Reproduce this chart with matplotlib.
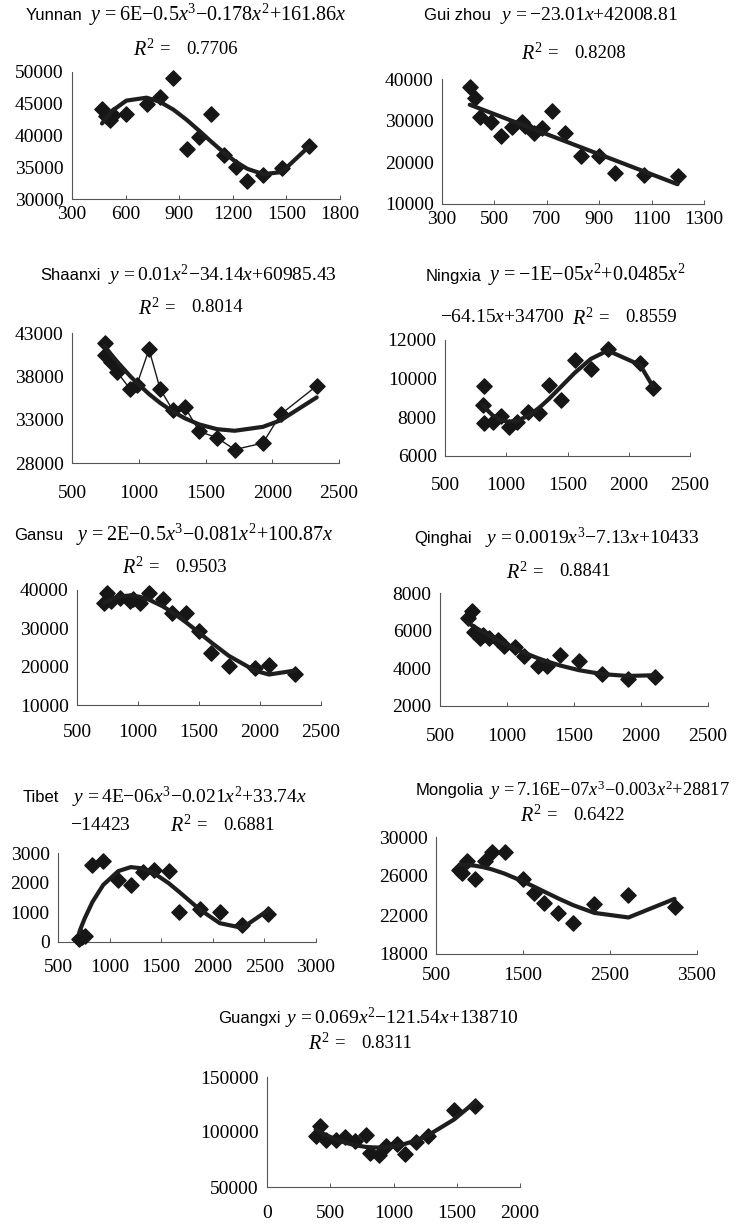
import numpy as np
import matplotlib
matplotlib.use('Agg')
import matplotlib.pyplot as plt
from matplotlib import font_manager

plt.rcParams['font.family'] = 'Liberation Serif'
plt.rcParams['mathtext.fontset'] = 'custom'
plt.rcParams['mathtext.rm'] = 'Liberation Serif'
plt.rcParams['mathtext.it'] = 'Liberation Serif:italic'
plt.rcParams['mathtext.sf'] = 'Liberation Sans'

installed = {f.name for f in font_manager.fontManager.ttflist}
if 'Liberation Sans Narrow' in installed:
    name_font, name_size = 'Liberation Sans Narrow', 13.5
else:
    name_font, name_size = 'Liberation Sans', 12

# data (income x, value y)
yunnan_x = [468, 490, 515, 530, 604, 717, 790, 868, 943, 1013, 1079, 1148, 1219, 1282, 1371, 1474, 1628]
yunnan_y = [44100, 43000, 42500, 43300, 43400, 45000, 46100, 49100, 37900, 39700, 43400, 37000, 35100, 32900, 33800, 34900, 38400]

guizhou_x = [406, 427, 446, 486, 527, 567, 606, 615, 650, 682, 718, 771, 832, 899, 962, 1072, 1199]
guizhou_y = [38000, 35400, 30800, 29600, 26400, 28400, 29600, 28800, 27000, 28200, 32200, 27000, 21400, 21600, 17400, 17000, 16800]

shaanxi_x = [744, 749, 790, 840, 935, 985, 1077, 1160, 1254, 1346, 1453, 1587, 1719, 1930, 2062, 2333]
shaanxi_y = [40500, 41850, 39700, 38450, 36550, 37000, 41100, 36550, 34100, 34450, 31650, 30900, 29550, 30300, 33600, 36900]

ningxia_x = [809, 817, 822, 890, 955, 1020, 1090, 1178, 1268, 1347, 1445, 1560, 1691, 1828, 2093, 2200]
ningxia_y = [8650, 9600, 7700, 7760, 8050, 7500, 7760, 8280, 8230, 9660, 8920, 10960, 10480, 11520, 10790, 9540]

gansu_x = [720, 746, 781, 850, 932, 960, 1014, 1090, 1205, 1281, 1396, 1500, 1601, 1746, 1960, 2074, 2290]
gansu_y = [36500, 39100, 37000, 37800, 37000, 37600, 36700, 39100, 37600, 34100, 34100, 29400, 23500, 20200, 19600, 20400, 18000]

qinghai_x = [711, 741, 756, 799, 823, 866, 935, 980, 1060, 1129, 1229, 1296, 1395, 1537, 1711, 1900, 2104]
qinghai_y = [6660, 7020, 5950, 5600, 5780, 5600, 5510, 5190, 5120, 4650, 4120, 4120, 4700, 4400, 3690, 3460, 3550]

tibet_x = [705, 730, 760, 834, 938, 1084, 1205, 1321, 1432, 1571, 1675, 1873, 2068, 2286, 2539]
tibet_y = [110, 170, 190, 2580, 2730, 2100, 1910, 2360, 2440, 2390, 1010, 1120, 1010, 560, 930]

mongolia_x = [769, 800, 858, 950, 1058, 1142, 1288, 1500, 1627, 1742, 1904, 2077, 2319, 2712, 3242]
mongolia_y = [26660, 26300, 27550, 25740, 27550, 28470, 28470, 25740, 24270, 23250, 22230, 21200, 23110, 24030, 22800]

guangxi_x = [385, 422, 464, 544, 620, 694, 781, 818, 887, 939, 1029, 1090, 1177, 1274, 1478, 1644]
guangxi_y = [96700, 105150, 93000, 92400, 95450, 91500, 97600, 80900, 79400, 87600, 89400, 80300, 90600, 96700, 119700, 123900]

W, H = 736, 1228
fig = plt.figure(figsize=(W / 100, H / 100), dpi=100)
fig.patch.set_facecolor('white')


def panel(x, y, deg, box, xticks, yticks, xpad, thin=False):
    l, r, t, b = box
    ax = fig.add_axes([l / W, 1 - b / H, (r - l) / W, (b - t) / H])
    ax.set_xlim(xticks[0], xticks[-1])
    ax.set_ylim(yticks[0], yticks[-1])
    ax.set_xticks(xticks)
    ax.set_yticks(yticks)
    for s in ['top', 'right']:
        ax.spines[s].set_visible(False)
    for s in ['left', 'bottom']:
        ax.spines[s].set_color('#555555')
        ax.spines[s].set_linewidth(0.8)
    ax.tick_params(axis='x', direction='in', length=3, width=0.7, color='#555555',
                   labelsize=14, pad=xpad)
    ax.tick_params(axis='y', length=0, labelsize=14, pad=6)
    ax.patch.set_alpha(0)

    xs = np.array(x, dtype=float)
    ys = np.array(y, dtype=float)
    order = np.argsort(xs)
    xs, ys = xs[order], ys[order]
    if thin:
        ax.plot(xs, ys, color='#1a1a1a', lw=1.0, zorder=2)
    ax.scatter(xs, ys, marker='D', s=60, color='#161616', zorder=3, clip_on=False)
    coef = np.polyfit(xs, ys, deg)
    ax.plot(xs, np.polyval(coef, xs), color='#1e1e1e', lw=3.0, zorder=4,
            solid_capstyle='round', solid_joinstyle='round')
    return ax


def put(x, y, s, size=13.5, **kw):
    fig.text(x / W, 1 - y / H, s, ha='left', va='center', fontsize=size, **kw)


def title(name, nx, eq, ex, y, size=14):
    put(nx, y + 1, name, size=name_size, family=name_font)
    put(ex, y, eq, size=size)


def r2(lx, y, val):
    put(lx, y + 1, r'$R^2$', size=14.5)
    put(lx + 26, y, '=', size=13.5)
    put(lx + 53, y, val, size=13.5)


panel(yunnan_x, yunnan_y, 3, (72, 340, 72, 199), list(range(300, 1801, 300)),
      list(range(30000, 50001, 5000)), 5)
title('Yunnan', 26, r'$y\,{=}6\mathrm{E}{-}0.5x^3{-}0.178x^2{+}161.86x$', 89, 15, 14.5)
r2(133, 49, '0.7706')

panel(guizhou_x, guizhou_y, 1, (442, 704, 79, 204), list(range(300, 1301, 200)),
      list(range(10000, 40001, 10000)), 5)
title('Gui zhou', 424, r'$y\,{=}{-}23.01x{+}42008.81$', 500, 15, 14)
r2(521, 53, '0.8208')

panel(shaanxi_x, shaanxi_y, 2, (72, 339, 333, 463), list(range(500, 2501, 500)),
      list(range(28000, 43001, 5000)), 16, thin=True)
title('Shaanxi', 40, r'$y\,{=}0.01x^2{-}34.14x{+}60985.43$', 108, 275, 14)
r2(138, 308, '0.8014')

panel(ningxia_x, ningxia_y, 3, (445, 690, 340, 456), list(range(500, 2501, 500)),
      list(range(6000, 12001, 2000)), 15)
title('Ningxia', 426, r'$y\,{=}{-}1\mathrm{E}{-}05x^2{+}0.0485x^2$', 488, 275, 14.5)
put(440, 318, r'${-}64.15x{+}34700$', size=14)
r2(572, 318, '0.8559')

panel(gansu_x, gansu_y, 3, (77, 321, 590, 705), list(range(500, 2501, 500)),
      list(range(10000, 40001, 10000)), 14)
title('Gansu', 14, r'$y\,{=}2\mathrm{E}{-}0.5x^3{-}0.081x^2{+}100.87x$', 76, 535, 14.5)
r2(122, 567, '0.9503')

panel(qinghai_x, qinghai_y, 2, (440, 708, 593, 706), list(range(500, 2501, 500)),
      list(range(2000, 8001, 2000)), 16)
title('Qinghai', 414, r'$y\,{=}0.0019x^3{-}7.13x{+}10433$', 485, 538, 14)
r2(506, 572, '0.8841')

panel(tibet_x, tibet_y, 3, (58, 316, 853, 942), list(range(500, 3001, 500)),
      list(range(0, 3001, 1000)), 12)
title('Tibet', 23, r'$y\,{=}4\mathrm{E}{-}06x^3{-}0.021x^2{+}33.74x$', 72, 797, 14)
put(70, 825, r'${-}14423$', size=14)
r2(170, 825, '0.6881')

panel(mongolia_x, mongolia_y, 3, (436, 697, 837, 954), list(range(500, 3501, 1000)),
      list(range(18000, 30001, 4000)), 9)
title('Mongolia', 416, r'$y\,{=}7.16\mathrm{E}{-}07x^3{-}0.003x^2{+}28817$', 489, 790, 13.2)
r2(520, 815, '0.6422')

panel(guangxi_x, guangxi_y, 2, (267, 520, 1077, 1187), list(range(0, 2001, 500)),
      list(range(50000, 150001, 50000)), 13)
title('Guangxi', 218, r'$y\,{=}0.069x^2{-}121.54x{+}138710$', 285, 1018, 14)
r2(308, 1043, '0.8311')

fig.savefig('out.png', dpi=100)
